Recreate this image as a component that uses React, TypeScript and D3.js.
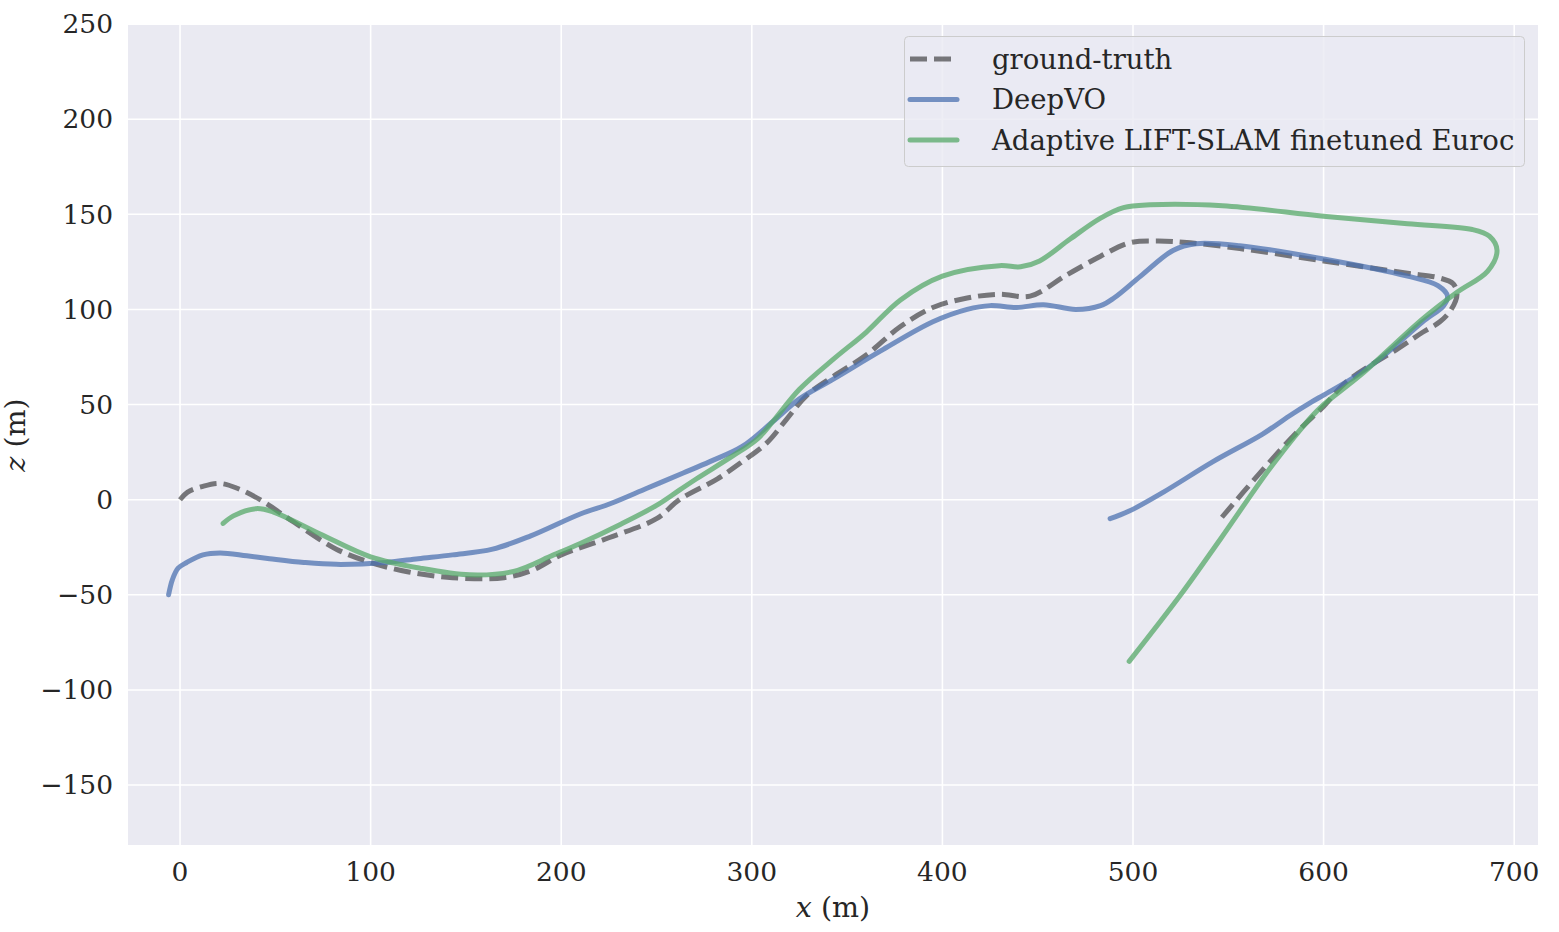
import * as d3 from "d3"
import React, { useEffect, useRef } from "react"

// trajectories, [x, z] in metres
const groundTruth: [number, number][] = [
  [0, 0], [4, 4], [12, 7], [21, 8.5], [30, 6], [42, 0], [60, -12], [82, -26], [100, -33],
  [120, -38], [143, -41], [170, -41], [185, -37], [200, -29], [225, -20], [250, -10],
  [262, 0], [282, 11], [295, 20], [308, 30], [318, 42], [329, 55], [343, 65], [360, 76],
  [378, 91], [395, 101], [413, 106], [430, 108], [446, 107], [465, 118], [483, 128],
  [498, 135], [513, 136], [530, 135], [556, 132], [600, 125.5], [644, 119], [661, 116.5],
  [668, 113.5], [670, 108], [667, 100], [661, 93.5], [652, 88], [640, 80], [612, 62],
  [600, 49], [586, 35.5], [567, 14.5], [546, -10],
]

const deepVO: [number, number][] = [
  [-6, -50], [-4, -42], [-1, -36], [3.5, -33], [12, -29], [21, -28], [35, -29.5], [47, -31],
  [65, -33], [82, -34], [108, -33], [125, -31], [143, -29], [164, -26], [184, -19],
  [210, -7.5], [226, -2], [245, 6], [264, 14], [278, 20], [295, 28], [311, 41], [325, 53],
  [343, 63.5], [369, 79], [395, 93.5], [413, 100], [425, 102], [439, 101], [453, 102.5],
  [470, 100], [483, 102], [490, 106], [504, 117.5], [521, 131], [533, 134.5], [556, 133.5],
  [600, 126.5], [644, 117.5], [660, 112.5], [665, 107], [663, 102], [652, 93.5],
  [632, 76], [617, 65], [600, 55], [594, 51.5], [582, 44], [568, 34.5], [542, 20],
  [516, 4], [498, -6], [488, -10],
]

const adaptiveLift: [number, number][] = [
  [22.6, -12.5], [28, -8.5], [40, -4.7], [49, -6.5], [73.5, -18], [100, -30], [126, -36],
  [152, -39.5], [175, -37.7], [196, -29], [210, -23], [231, -13], [250, -3], [262, 5],
  [271, 11], [290, 23], [303, 32], [311, 41], [325, 58], [343, 74], [360, 88], [378, 105],
  [400, 117.5], [430, 123], [441, 122.4], [451, 125.5], [467, 137], [483, 148], [495, 153.5],
  [509, 155], [547, 154.5], [600, 149], [644, 145], [678, 142], [687, 138.5], [691, 131],
  [686, 120], [670, 109], [652, 95], [620, 66], [600, 50], [594, 44], [573, 18],
  [546, -20.5], [525, -50], [498, -85],
]

const xTicks = [0, 100, 200, 300, 400, 500, 600, 700]
const yTicks = [-150, -100, -50, 0, 50, 100, 150, 200, 250]

const series = [
  { name: "ground-truth", data: groundTruth, color: "#000000", opacity: 0.5, dash: "17,7" },
  { name: "DeepVO", data: deepVO, color: "#4c72b0", opacity: 0.75, dash: null },
  { name: "Adaptive LIFT-SLAM finetuned Euroc", data: adaptiveLift, color: "#55a868", opacity: 0.75, dash: null },
]

const App = () => {
  const svgRef = useRef<SVGSVGElement>(null)

  useEffect(() => {
    const width = 1559
    const height = 932
    const margin = { top: 25, right: 21, bottom: 87, left: 128 }
    const font = "'DejaVu Serif', serif"

    const svg = d3.select(svgRef.current).attr("width", width).attr("height", height)
    svg.selectAll("*").remove()

    const x = d3.scaleLinear().domain([-27.3, 712.5]).range([margin.left, width - margin.right])
    const y = d3.scaleLinear().domain([-181.5, 249.5]).range([height - margin.bottom, margin.top])

    // axes background
    svg.append("rect")
      .attr("x", margin.left).attr("y", margin.top)
      .attr("width", width - margin.left - margin.right)
      .attr("height", height - margin.top - margin.bottom)
      .attr("fill", "#eaeaf2")

    // grid
    const grid = svg.append("g").attr("stroke", "#fff").attr("stroke-width", 1.6)
    grid.selectAll(".gx").data(xTicks).join("line")
      .attr("x1", (d) => x(d)).attr("x2", (d) => x(d))
      .attr("y1", margin.top).attr("y2", height - margin.bottom)
    grid.selectAll(".gy").data(yTicks).join("line")
      .attr("y1", (d) => y(d)).attr("y2", (d) => y(d))
      .attr("x1", margin.left).attr("x2", width - margin.right)

    // tick labels
    const fmt = (d: number) => (d < 0 ? "\u2212" + Math.abs(d) : String(d))
    svg.append("g").selectAll("text").data(xTicks).join("text")
      .attr("x", (d) => x(d)).attr("y", height - margin.bottom + 36)
      .attr("text-anchor", "middle")
      .style("font-family", font).style("font-size", "26.5px").attr("fill", "#262626")
      .text(fmt)
    svg.append("g").selectAll("text").data(yTicks).join("text")
      .attr("x", margin.left - 15).attr("y", (d) => y(d)).attr("dy", "0.35em")
      .attr("text-anchor", "end")
      .style("font-family", font).style("font-size", "26.5px").attr("fill", "#262626")
      .text(fmt)

    // axis labels
    const xl = svg.append("text")
      .attr("x", (margin.left + width - margin.right) / 2).attr("y", height - 15)
      .attr("text-anchor", "middle")
      .style("font-family", font).style("font-size", "28.5px").attr("fill", "#262626")
    xl.append("tspan").style("font-style", "italic").text("x")
    xl.append("tspan").text(" (m)")

    const yl = svg.append("text")
      .attr("transform", `translate(25, ${(margin.top + height - margin.bottom) / 2}) rotate(-90)`)
      .attr("text-anchor", "middle")
      .style("font-family", font).style("font-size", "28.5px").attr("fill", "#262626")
    yl.append("tspan").style("font-style", "italic").text("z")
    yl.append("tspan").text(" (m)")

    // trajectories
    const line = d3.line<[number, number]>()
      .x((d) => x(d[0])).y((d) => y(d[1]))
      .curve(d3.curveCatmullRom.alpha(0.5))

    svg.append("g").selectAll("path").data(series).join("path")
      .attr("d", (s) => line(s.data))
      .attr("fill", "none")
      .attr("stroke", (s) => s.color)
      .attr("stroke-opacity", (s) => s.opacity)
      .attr("stroke-width", 5)
      .attr("stroke-linecap", (s) => (s.dash ? "butt" : "round"))
      .attr("stroke-linejoin", "round")
      .attr("stroke-dasharray", (s) => s.dash)

    // legend
    const lg = svg.append("g")
    lg.append("rect")
      .attr("x", 904.5).attr("y", 36.5).attr("width", 620).attr("height", 130).attr("rx", 4)
      .attr("fill", "#eaeaf2").attr("fill-opacity", 0.8)
      .attr("stroke", "#cccccc").attr("stroke-width", 1)
    const rows = lg.selectAll(".row").data(series).join("g")
      .attr("transform", (_, i) => `translate(0, ${59 + i * 40.5})`)
    rows.append("line")
      .attr("x1", 910).attr("x2", 957).attr("y1", 0).attr("y2", 0)
      .attr("stroke", (s) => s.color)
      .attr("stroke-opacity", (s) => s.opacity)
      .attr("stroke-width", 5)
      .attr("stroke-linecap", (s) => (s.dash ? "butt" : "round"))
      .attr("stroke-dasharray", (s) => s.dash)
    rows.append("text")
      .attr("x", 992).attr("y", 0).attr("dy", "0.35em")
      .style("font-family", font).style("font-size", "27.5px").attr("fill", "#262626")
      .text((s) => s.name)
  }, [])

  return <svg ref={svgRef} style={{ position: "absolute", left: 0, top: 0 }}></svg>
}

export default App
